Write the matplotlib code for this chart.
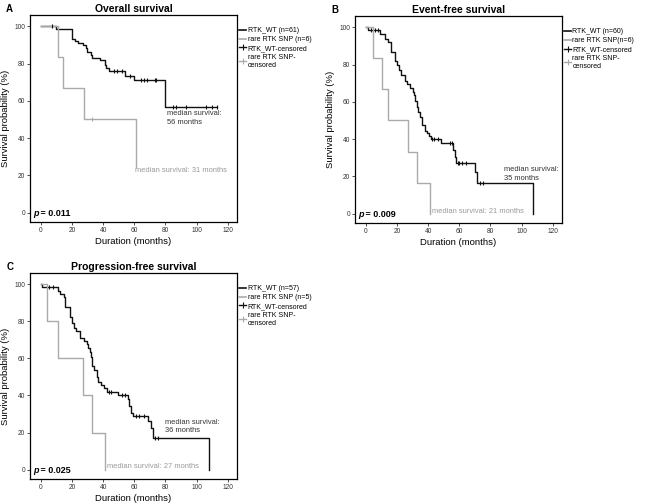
import numpy as np
import matplotlib
matplotlib.use('Agg')
from matplotlib import pyplot as plt
from matplotlib.lines import Line2D

plt.rcParams['font.family'] = ['Liberation Sans', 'DejaVu Sans']

WT_COLOR = '#111111'
SNP_COLOR = '#aaaaaa'

# Overall survival
os_wt_times = [10, 20, 22, 24, 27, 29, 30, 32, 33, 38, 41, 42, 44, 54, 60, 80]
os_wt_surv = [98.4, 93.4, 92.0, 91.0, 89.9, 88.2, 86.4, 84.6, 83.1, 81.9, 79.2, 77.4, 76.0, 73.3, 71.1, 56.8]
os_wt_censor = [7, 47, 49, 52, 57, 64, 66, 68, 73, 74, 85, 87, 93, 106, 110, 113]
os_wt_end = 113
os_snp_times = [11, 14, 28, 61]
os_snp_surv = [83.3, 66.7, 50.0, 25.0]
os_snp_censor = [33, 61]
os_snp_end = 61

# Event-free survival
efs_wt_times = [1, 9, 12, 14, 16, 18.6, 20, 21, 22.8, 25, 26.5, 28.2, 30, 31, 31.8, 32.5, 33.5,
                35, 36, 37.8, 39.3, 40.6, 41.9, 48.5, 56, 57, 58, 70, 71.5, 107]
efs_wt_surv = [98.3, 96.4, 93.8, 92.0, 86.6, 82.0, 79.5, 76.8, 74.6, 71.4, 69.6, 67.5, 65.2, 63.4,
               60.7, 57.0, 54.5, 51.8, 47.3, 44.6, 43.2, 41.4, 40.2, 37.7, 33.9, 30.4, 27.3, 22.3, 16.4, 0]
efs_wt_censor = [3, 6, 7.5, 42.5, 44, 46, 54, 55, 59, 60, 62, 64, 73, 75]
efs_wt_end = 107
efs_snp_times = [4.3, 10.5, 14.3, 27.1, 32.9, 41.2]
efs_snp_surv = [83.3, 66.7, 50.0, 33.3, 16.7, 0]
efs_snp_censor = []
efs_snp_end = 41.2

# Progression-free survival
pfs_wt_times = [1, 10.8, 12.6, 14.7, 15.8, 18.6, 20.1, 21.2, 22.9, 25.1, 27.7, 29.4, 30.3, 31.6, 32.5,
                33.1, 34.2, 35.9, 37, 38.5, 40.7, 42.4, 49.4, 55.8, 56.9, 58, 59.1, 68.8, 70.6, 72.1, 107.8]
pfs_wt_surv = [98.2, 96.5, 94.7, 93.0, 87.7, 82.5, 79.0, 76.3, 74.6, 71.1, 69.3, 67.5, 65.8, 63.2, 60.5,
               56.1, 53.5, 50.0, 47.4, 45.6, 43.9, 42.1, 40.0, 38.0, 34.4, 30.8, 28.7, 26.0, 22.4, 17.0, 0]
pfs_wt_censor = [5, 8, 43.5, 45, 52, 54, 61, 63, 66, 73, 75]
pfs_wt_end = 107.8
pfs_snp_times = [3.9, 10.8, 27.1, 33.1, 41.3]
pfs_snp_surv = [80, 60, 40, 20, 0]
pfs_snp_censor = []
pfs_snp_end = 41.3


def step_value(times, surv, t):
    value = 100.0
    for ti, si in zip(times, surv):
        if ti <= t:
            value = si
    return value


def draw_curve(ax, times, surv, censor, end, color):
    x = [0] + list(times) + [end]
    y = [100] + list(surv) + [surv[-1]]
    ax.step(x, y, where='post', color=color, lw=1.0, zorder=3)
    if censor:
        cy = [step_value(times, surv, c) for c in censor]
        ax.plot(censor, cy, ls='none', marker='|', ms=3.5, mew=0.8, color=color, zorder=4)


def format_panel(ax, title, letter, pval, n_wt, n_snp_label):
    ax.set_xlim(-7, 126)
    ax.set_ylim(-5, 106)
    ax.set_xticks(range(0, 121, 20))
    ax.set_yticks(range(0, 101, 20))
    ax.tick_params(axis='both', labelsize=4.8, length=2, width=0.6, pad=1.5, colors='#333333')
    for spine in ax.spines.values():
        spine.set_linewidth(0.9)
    ax.set_title(title, fontsize=7.5, fontweight='bold', pad=2)
    ax.set_xlabel('Duration (months)', fontsize=6.8, labelpad=2)
    ax.set_ylabel('Survival probability (%)', fontsize=6.8, labelpad=3)
    ax.text(-0.08, 1.003, letter, transform=ax.transAxes, fontsize=7, fontweight='bold',
            ha='right', va='bottom')
    ax.text(0.015, 0.02, 'p', transform=ax.transAxes, fontsize=6.5, fontweight='bold',
            style='italic', ha='left', va='bottom')
    ax.annotate(' = ' + pval, xy=(0.015, 0.02), xycoords='axes fraction', xytext=(3.6, 0),
                textcoords='offset points', fontsize=6.5, fontweight='bold', ha='left', va='bottom')
    handles = [
        Line2D([0], [0], color=WT_COLOR, lw=1.2),
        Line2D([0], [0], color=SNP_COLOR, lw=1.2),
        Line2D([0], [0], color=WT_COLOR, lw=1.0, marker='|', ms=4, mew=0.8),
        Line2D([0], [0], color=SNP_COLOR, lw=1.0, marker='|', ms=4, mew=0.8),
    ]
    labels = ['RTK_WT (n=%d)' % n_wt, n_snp_label, 'RTK_WT-censored', 'rare RTK SNP-\ncensored']
    ax.legend(handles, labels, loc='upper left', bbox_to_anchor=(1.0, 0.95), frameon=False,
              fontsize=5, handlelength=1.0, handletextpad=0.2, labelspacing=0.25, borderpad=0,
              borderaxespad=0.3)


fig = plt.figure(dpi=100, figsize=(6.48, 5.04))
ax_a = fig.add_axes([0.046, 0.5595, 0.32, 0.4107])
ax_b = fig.add_axes([0.548, 0.5575, 0.3194, 0.4107])
ax_c = fig.add_axes([0.046, 0.0496, 0.32, 0.4087])

draw_curve(ax_a, os_wt_times, os_wt_surv, os_wt_censor, os_wt_end, WT_COLOR)
draw_curve(ax_a, os_snp_times, os_snp_surv, os_snp_censor, os_snp_end, SNP_COLOR)
format_panel(ax_a, 'Overall survival', 'A', '0.011', 61, 'rare RTK SNP (n=6)')
ax_a.text(81, 55, 'median survival:\n56 months', fontsize=5.4, color='#333333', va='top', linespacing=1.3)
ax_a.text(60.5, 22.5, 'median survival: 31 months', fontsize=5.4, color='#999999', va='center')

draw_curve(ax_b, efs_wt_times, efs_wt_surv, efs_wt_censor, efs_wt_end, WT_COLOR)
draw_curve(ax_b, efs_snp_times, efs_snp_surv, efs_snp_censor, efs_snp_end, SNP_COLOR)
format_panel(ax_b, 'Event-free survival', 'B', '0.009', 60, 'rare RTK SNP(n=6)')
ax_b.text(88.5, 25.5, 'median survival:\n35 months', fontsize=5.4, color='#333333', va='top', linespacing=1.3)
ax_b.text(42.5, 1.0, 'median survival: 21 months', fontsize=5.4, color='#999999', va='center')

draw_curve(ax_c, pfs_wt_times, pfs_wt_surv, pfs_wt_censor, pfs_wt_end, WT_COLOR)
draw_curve(ax_c, pfs_snp_times, pfs_snp_surv, pfs_snp_censor, pfs_snp_end, SNP_COLOR)
format_panel(ax_c, 'Progression-free survival', 'C', '0.025', 57, 'rare RTK SNP (n=5)')
ax_c.text(79.5, 27.5, 'median survival:\n36 months', fontsize=5.4, color='#333333', va='top', linespacing=1.3)
ax_c.text(42.5, 1.5, 'median survival: 27 months', fontsize=5.4, color='#999999', va='center')

fig.savefig('out.png', dpi=100)
